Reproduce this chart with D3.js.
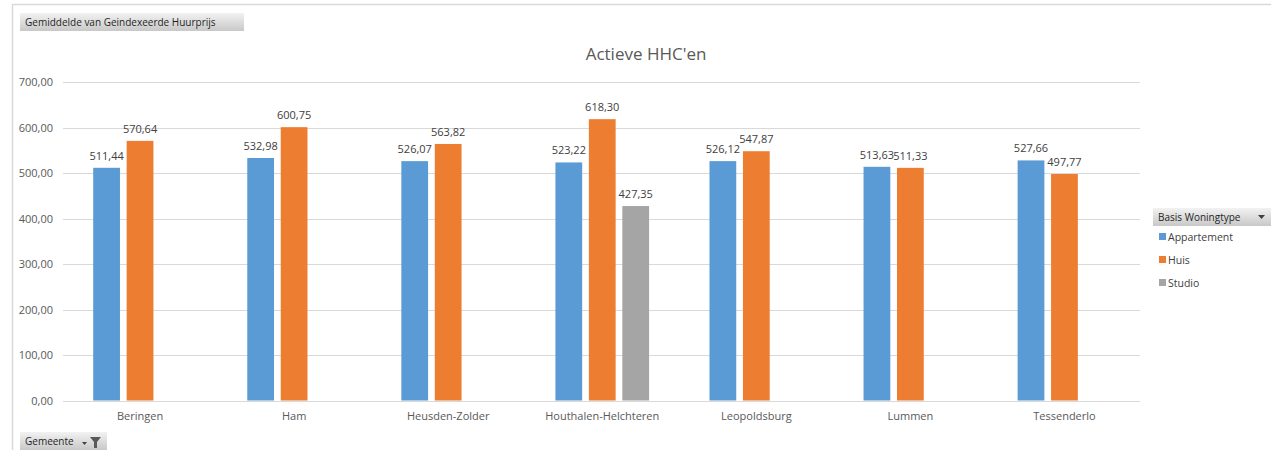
<!DOCTYPE html>
<html>
<head>
<meta charset="utf-8">
<script src="https://cdn.jsdelivr.net/npm/d3@7"></script>
<style>
  html, body { margin: 0; padding: 0; background: #fff; }
  svg { display: block; font-family: "Open Sans", "Noto Sans", sans-serif; }
</style>
</head>
<body>
<svg id="chart" width="1271" height="450"></svg>
<script>
// Gemeenten (categories) and the average indexed rent per dwelling type
const gemeenten = ["Beringen", "Ham", "Heusden-Zolder", "Houthalen-Helchteren", "Leopoldsburg", "Lummen", "Tessenderlo"];
const woningtypes = ["Appartement", "Huis", "Studio"];
const appartement = [511.44, 532.98, 526.07, 523.22, 526.12, 513.63, 527.66];
const huis = [570.64, 600.75, 563.82, 618.30, 547.87, 511.33, 497.77];
const studio = [null, null, null, 427.35, null, null, null];
const yTicks = [0, 100, 200, 300, 400, 500, 600, 700];

const seriesValues = { Appartement: appartement, Huis: huis, Studio: studio };
const colors = { Appartement: "#5b9bd5", Huis: "#ed7d31", Studio: "#a5a5a5" };

const svg = d3.select("#chart");
const fmt = v => d3.format(".2f")(v).replace(".", ",");

// Chart frame (top and left edges)
svg.append("line").attr("x1", 12).attr("x2", 1271).attr("y1", 4.5).attr("y2", 4.5)
  .attr("stroke", "#d9d9d9").attr("stroke-width", 1.5);
svg.append("line").attr("x1", 12.5).attr("x2", 12.5).attr("y1", 4).attr("y2", 450)
  .attr("stroke", "#d9d9d9").attr("stroke-width", 1.5);

const plot = { left: 63, right: 1140, top: 82, bottom: 400.5 };

const x0 = d3.scaleBand().domain(gemeenten).range([plot.left, plot.right + 1.5])
  .paddingInner(0.392).paddingOuter(0.196);
const x1 = d3.scaleBand().domain(woningtypes).range([0, x0.bandwidth()])
  .paddingInner(0.2).paddingOuter(0);
const y = d3.scaleLinear().domain([0, 700]).range([plot.bottom, plot.top]);

// Gridlines
svg.append("g").selectAll("line").data(yTicks).join("line")
  .attr("x1", plot.left).attr("x2", plot.right)
  .attr("y1", d => Math.round(y(d)) + 0.5).attr("y2", d => Math.round(y(d)) + 0.5)
  .attr("stroke", "#d9d9d9").attr("stroke-width", 1);

// Y axis labels
const yAxis = d3.axisLeft(y).tickValues(yTicks).tickFormat(fmt).tickSize(0).tickPadding(0);
svg.append("g").attr("transform", `translate(${plot.left - 10},0)`).call(yAxis)
  .call(g => g.select(".domain").remove())
  .call(g => g.selectAll("text").attr("fill", "#595959").attr("font-size", 11)
    .attr("font-family", "'Open Sans', sans-serif"));

// X axis labels
const xAxis = d3.axisBottom(x0).tickSize(0).tickPadding(0);
svg.append("g").attr("transform", `translate(0,${plot.bottom + 12})`).call(xAxis)
  .call(g => g.select(".domain").remove())
  .call(g => g.selectAll("text").attr("fill", "#595959").attr("font-size", 11)
    .attr("font-family", "'Open Sans', sans-serif"));

// Bars and data labels
const rows = gemeenten.flatMap((g, i) => woningtypes
  .filter(t => seriesValues[t][i] != null)
  .map(t => ({ g, t, v: seriesValues[t][i] })));

const groups = svg.append("g");
groups.selectAll("rect").data(rows).join("rect")
  .attr("x", d => x0(d.g) + x1(d.t))
  .attr("y", d => y(d.v))
  .attr("width", x1.bandwidth())
  .attr("height", d => y(0) - y(d.v))
  .attr("fill", d => colors[d.t]);

groups.selectAll("text").data(rows).join("text")
  .attr("x", d => x0(d.g) + x1(d.t) + x1.bandwidth() / 2)
  .attr("y", d => y(d.v) - 8)
  .attr("text-anchor", "middle")
  .attr("fill", "#404040").attr("font-size", 11)
  .text(d => fmt(d.v));

// Title
svg.append("text").attr("x", 646).attr("y", 60).attr("text-anchor", "middle")
  .attr("fill", "#595959").attr("font-size", 17).text("Actieve HHC'en");

// Pivot field buttons
const grad = svg.append("defs").append("linearGradient").attr("id", "btn")
  .attr("x1", 0).attr("x2", 0).attr("y1", 0).attr("y2", 1);
grad.append("stop").attr("offset", "0%").attr("stop-color", "#f2f2f2");
grad.append("stop").attr("offset", "100%").attr("stop-color", "#c8c8c8");

function button(x, yPos, w, label) {
  const g = svg.append("g").attr("transform", `translate(${x},${yPos})`);
  g.append("rect").attr("width", w).attr("height", 18).attr("fill", "url(#btn)");
  g.append("text").attr("x", 5).attr("y", 13).attr("font-size", 10)
    .attr("fill", "#1f1f1f").text(label);
  return g;
}
button(20, 13, 224, "Gemiddelde van Geindexeerde Huurprijs");
const gem = button(20, 432, 87, "Gemeente");
gem.append("path").attr("d", "M62,10 h5 l-2.5,3 z").attr("fill", "#404040");
gem.append("path").attr("d", "M70,5 h11 l-4,5 v6 h-3 v-6 z").attr("fill", "#595959");

const leg = button(1153, 208, 118, "Basis Woningtype");
leg.append("path").attr("d", "M105,7 h7 l-3.5,4 z").attr("fill", "#404040");

// Legend entries
const legend = svg.append("g").attr("transform", "translate(1159,237)");
woningtypes.forEach((t, i) => {
  const g = legend.append("g").attr("transform", `translate(0,${i * 23})`);
  g.append("rect").attr("x", 0).attr("y", -4).attr("width", 7).attr("height", 7).attr("fill", colors[t]);
  g.append("text").attr("x", 9).attr("y", 3.5).attr("font-size", 10.5)
    .attr("fill", "#404040").text(t);
});
</script>
</body>
</html>
